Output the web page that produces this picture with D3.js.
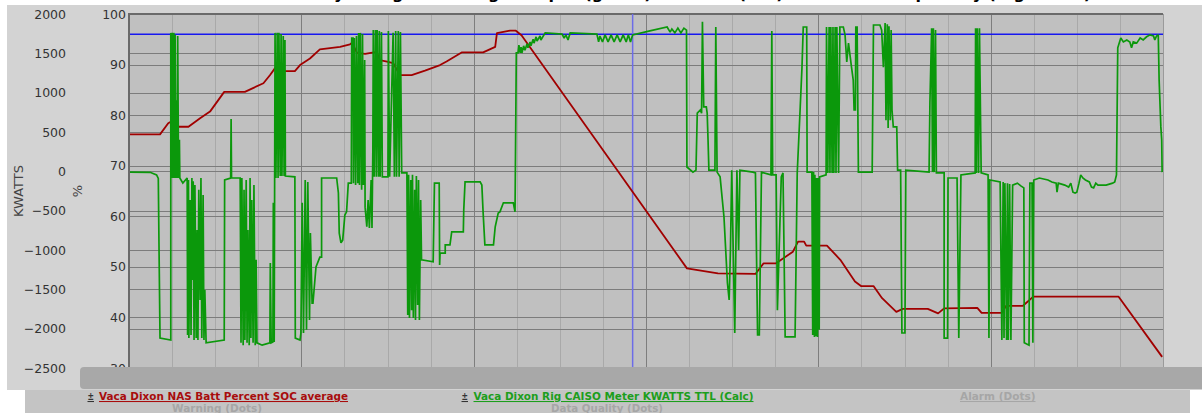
<!DOCTYPE html>
<html>
<head>
<meta charset="utf-8">
<script src="https://cdn.jsdelivr.net/npm/d3@7"></script>
<style>
  html, body { margin: 0; padding: 0; background: #ffffff; }
  svg { display: block; font-family: "DejaVu Sans", Verdana, sans-serif; }
</style>
</head>
<body>
<svg id="grafica" width="1202" height="413"></svg>
<script>
// =======================================================
// Datos
// =======================================================
const TITULO = "Vaca Dixon NAS Battery Charge/Discharge Output (green) and SOC (red) - 24 hour Sample Day (Rig Meter)";

const TICKS_KW = [-2500, -2000, -1500, -1000, -500, 0, 500, 1000, 1500, 2000];
const TICKS_PCT = [30, 40, 50, 60, 70, 80, 90, 100];

const LINEA_PCT = 96;      // línea azul horizontal
const HORA_CURSOR = 11.69; // línea azul vertical

// SOC promedio (%) : [hora, %]
const SOC_PCT = [
  [0, 76.2], [0.72, 76.2], [0.91, 78.4], [0.99, 78.8], [1.11, 77.7], [1.38, 77.7], [1.65, 79.4],
  [1.88, 80.7], [2.21, 84.6], [2.69, 84.6], [2.89, 85.4], [3.12, 86.3], [3.27, 87.9], [3.39, 89.3],
  [3.50, 88.7], [3.85, 88.7], [3.97, 89.9], [4.20, 91.2], [4.43, 93.0], [4.90, 93.5], [5.13, 94.0],
  [5.18, 94.3], [5.29, 92.3], [5.48, 92.1], [5.75, 92.5], [5.82, 90.9], [5.99, 90.6], [6.13, 90.3],
  [6.29, 87.9], [6.56, 87.9], [6.87, 88.8], [7.22, 89.9], [7.37, 90.6], [7.72, 92.4], [8.22, 92.4],
  [8.50, 93.5], [8.54, 96.2], [8.84, 96.7], [8.98, 96.7], [9.11, 95.8], [12.95, 49.7], [13.67, 48.7],
  [14.54, 48.6], [14.73, 50.7], [15.02, 50.7], [15.41, 53.0], [15.53, 55.0], [15.67, 55.0], [15.72, 54.2],
  [16.20, 54.2], [16.51, 51.4], [16.85, 47.1], [16.99, 46.2], [17.28, 46.2], [17.48, 43.8], [17.81, 41.1],
  [17.96, 41.7], [18.54, 41.7], [18.78, 40.8], [18.92, 41.8], [19.69, 41.9], [19.79, 40.9], [20.26, 40.9],
  [20.36, 42.3], [20.75, 42.3], [20.99, 44.1], [22.97, 44.1], [23.98, 32.2]
];

// Medidor CAISO (kW) : [hora, kW] en cuatro tramos
const KW_MADRUGADA = [
  [0.00, -10], [0.49, -12], [0.64, -45], [0.68, -90], [0.70, -1125], [0.72, -2120], [0.97, -2145],
  [0.97, 1760], [0.99, -85], [1.01, 1760], [1.03, -85], [1.04, 1760], [1.06, -85], [1.07, 1735], [1.09, -85],
  [1.11, 905], [1.12, -85], [1.13, 1720], [1.15, -85], [1.17, 400], [1.18, -85], [1.25, -150], [1.35, -85],
  [1.36, -2080], [1.38, -110], [1.39, -2120], [1.42, -365], [1.44, -2080], [1.46, -85], [1.47, -1380],
  [1.49, -125], [1.51, -2145], [1.53, -175], [1.56, -2120], [1.58, -745], [1.60, -2145], [1.62, -235],
  [1.65, -1635], [1.67, -85], [1.69, -2120], [1.72, -300], [1.74, -2145], [1.76, -1510], [1.79, -2180],
  [2.21, -2145], [2.22, -110], [2.36, -85], [2.37, 665], [2.38, -85], [2.58, -85],
  [2.60, -2180], [2.62, -85], [2.65, -2210], [2.67, -235], [2.69, -2145], [2.72, -110], [2.74, -2180],
  [2.76, -745], [2.79, -2210], [2.81, -85], [2.83, -2120], [2.85, -365], [2.88, -2180], [2.90, -175],
  [2.93, -2210], [2.95, -1125], [2.97, -2180], [3.09, -2210], [3.27, -2180], [3.28, -1165], [3.30, -2180],
  [3.34, -2170], [3.35, -400], [3.37, -2170],
  [3.39, 1760], [3.41, -85], [3.44, 1760], [3.46, -85], [3.48, 1760], [3.51, -60], [3.53, 1745], [3.55, -60],
  [3.58, 1720], [3.60, -60], [3.62, 1670], [3.63, -60], [3.85, -70],
  [3.86, -2120], [3.97, -2145], [3.99, -2055], [4.02, -400], [4.05, -2055], [4.09, -110], [4.12, -2015],
  [4.15, -135], [4.19, -1890], [4.21, -785], [4.25, -1675], [4.27, -1675], [4.34, -1215], [4.43, -1090],
  [4.47, -1090], [4.47, -85], [4.82, -85], [4.86, -275], [4.88, -785], [4.92, -910], [4.96, -875],
  [5.01, -555], [5.05, -515], [5.09, -150], [5.16, -150],
  [5.17, 1695], [5.20, 1695], [5.21, -150], [5.23, 1695], [5.26, -175], [5.28, 1720], [5.31, -150],
  [5.33, 1760], [5.35, -175], [5.37, 1760], [5.40, -235], [5.42, 1745], [5.44, -175], [5.47, 1415],
  [5.48, -455], [5.52, -705], [5.55, -365], [5.58, -720], [5.62, -110], [5.64, -720], [5.66, 270],
  [5.67, 1795], [5.69, -70], [5.72, 1795], [5.74, -70], [5.76, 1795], [5.79, -70], [5.81, 1785],
  [5.83, -70], [5.86, 1770], [5.88, -70]
];

const KW_MANANA = [
  [6.01, -70], [6.02, 1785], [6.05, -70], [6.13, 1760], [6.16, -70], [6.19, 1785], [6.21, -70],
  [6.25, 1785], [6.27, -70], [6.30, 1770], [6.33, -20], [6.45, -20],
  [6.47, -1825], [6.49, -45], [6.51, -1865], [6.54, -110], [6.56, -1765], [6.58, -45], [6.60, -1865],
  [6.63, -235], [6.65, -1890], [6.67, -60], [6.70, -1700], [6.72, -110], [6.74, -1890], [6.77, -365],
  [6.79, -1125], [7.06, -1150], [7.09, -150], [7.20, -150], [7.21, -1190], [7.22, -1040], [7.34, -1040],
  [7.34, -935], [7.45, -935], [7.49, -770], [7.76, -770], [7.77, -490], [7.80, -135], [8.15, -135],
  [8.19, -175], [8.22, -530], [8.26, -935], [8.46, -935], [8.50, -705], [8.57, -530], [8.61, -515],
  [8.69, -400], [8.92, -400], [8.96, -515],
  [8.99, 1505], [9.03, 1505], [9.05, 1605], [9.08, 1505], [9.10, 1580], [9.12, 1505], [9.16, 1595],
  [9.19, 1540], [9.24, 1620], [9.26, 1570], [9.31, 1645], [9.33, 1595], [9.38, 1680], [9.40, 1630],
  [9.45, 1710], [9.47, 1655], [9.54, 1720], [9.56, 1670], [9.66, 1760], [10.05, 1745], [10.10, 1695],
  [10.14, 1735], [10.19, 1670], [10.24, 1760], [10.86, 1745], [10.90, 1645], [10.93, 1720], [10.99, 1645],
  [11.05, 1735], [11.12, 1645], [11.19, 1735], [11.26, 1645], [11.33, 1735], [11.40, 1645], [11.47, 1735],
  [11.54, 1645], [11.59, 1735], [11.64, 1645], [11.69, 1735]
];

const KW_TARDE = [
  [12.09, 1785], [12.49, 1835], [12.56, 1770], [12.60, 1810], [12.67, 1760], [12.74, 1820], [12.81, 1760],
  [12.88, 1820], [12.94, 1795], [12.95, 55], [13.09, -10], [13.16, 15], [13.19, 740], [13.26, 780],
  [13.29, 740], [13.31, 1900], [13.34, 820], [13.40, 820], [13.42, 740], [13.44, 400], [13.46, 15],
  [13.60, 15], [13.62, 1835], [13.65, -10], [13.72, -70], [13.81, -580], [13.89, -1420], [13.93, -1635],
  [13.96, -1000], [13.99, 15], [14.06, -2055], [14.11, 15], [14.15, -1000], [14.18, 15], [14.48, -10],
  [14.54, -20], [14.59, -2080], [14.63, -2080], [14.68, -10], [14.90, -45], [14.92, 1785], [14.94, -45],
  [15.02, -45], [15.05, -1765], [15.09, -1000], [15.14, -70], [15.18, -20], [15.23, -2105], [15.46, -2105],
  [15.51, -20], [15.58, 820], [15.62, 1315], [15.65, 1835], [15.73, 1835], [15.74, -10], [15.85, -10],
  [15.87, -2080], [15.89, -10], [15.91, -2105], [15.92, -45], [15.94, -2095], [15.96, -85], [15.98, -2105],
  [16.00, -85], [16.02, -2015], [16.03, -70], [16.18, -45],
  [16.19, 1835], [16.22, -20], [16.25, 1835], [16.27, -20], [16.29, 1835], [16.32, -20], [16.34, 1835],
  [16.36, -20], [16.39, 1835], [16.41, -20], [16.43, 1835], [16.47, -20], [16.50, 1835], [16.58, 1835],
  [16.62, 1735], [16.66, 1390], [16.70, 1630], [16.77, 1325], [16.81, 1160], [16.83, 780], [16.86, 780],
  [16.87, 1835], [16.90, 1835], [16.93, -10], [17.25, -10], [17.28, 1860], [17.43, 1860], [17.47, 1795],
  [17.51, 1325], [17.55, 1885], [17.57, 650], [17.60, 1870], [17.62, 550], [17.64, 1845], [17.67, 650],
  [17.69, 1795], [17.71, 780], [17.74, 565], [17.82, 565], [17.84, 15], [17.91, 15], [17.94, -2055]
];

const KW_NOCHE = [
  [18.01, -2055], [18.03, 15], [18.57, -10], [18.59, 870], [18.63, 1820], [18.65, -10], [18.67, 1820],
  [18.69, -10], [18.72, 1795], [18.74, -20], [18.92, -20], [18.92, -2120], [19.00, -2120], [19.01, -85],
  [19.22, -85], [19.26, -2120], [19.31, -45], [19.64, -20], [19.65, 1820], [19.67, -20], [19.69, 1820],
  [19.72, -20], [19.74, 1820], [19.78, -20], [19.94, -45], [19.96, -2120], [19.98, -110], [20.22, -135],
  [20.26, -2145], [20.29, -135], [20.31, -2120], [20.33, -150], [20.37, -2145], [20.39, -150], [20.41, -2145],
  [20.44, -160], [20.47, -2145], [20.51, -175], [20.62, -150], [20.70, -185], [20.77, -210], [20.78, -2180],
  [20.89, -2210], [20.91, -150], [20.96, -150], [20.98, -2180], [21.00, -110], [21.13, -85], [21.33, -110],
  [21.42, -135], [21.52, -150], [21.54, -265], [21.57, -150], [21.72, -175], [21.81, -200], [21.86, -150],
  [21.91, -265], [21.96, -275], [22.00, -265], [22.05, -150], [22.09, -45], [22.14, -85], [22.20, -110],
  [22.29, -135], [22.34, -200], [22.39, -210], [22.44, -150], [22.49, -175], [22.68, -175], [22.83, -150],
  [22.88, -135], [22.92, -45], [22.95, 1570], [23.02, 1695], [23.08, 1645], [23.16, 1670], [23.23, 1645],
  [23.27, 1570], [23.31, 1645], [23.39, 1630], [23.47, 1695], [23.54, 1670], [23.62, 1710], [23.70, 1735],
  [23.78, 1720], [23.81, 1670], [23.85, 1720], [23.89, 1735], [23.91, 1160], [23.95, 565], [23.97, 400],
  [23.98, -10]
];

const KW_TOTAL = KW_MADRUGADA.concat(KW_MANANA, KW_TARDE, KW_NOCHE);

// Leyenda
const LEYENDA_SOC = "Vaca Dixon NAS Batt Percent SOC average";
const LEYENDA_KW = "Vaca Dixon Rig CAISO Meter KWATTS TTL (Calc)";

// =======================================================
// Estilos
// =======================================================
const COLORES = {
  panel: "#d3d3d3",
  fondo: "#c0c0c0",
  gridH: "#7c7c7c",
  gridV: "#a9a9a9",
  gridV4: "#7e7e7e",
  eje: "#6a6a6a",
  soc: "#a10000",
  kw: "#0b980b",
  azul: "#1818f0",
  cursor: "#6c6ce8",
  scroll: "#a8a8a8",
  leyenda: "#c4c4c4",
  apagado: "#a6a6a6",
};

const AREA = { left: 129, right: 1163, top: 14, bottom: 368 };

// =======================================================
// Escalas
// =======================================================
const x = d3.scaleLinear().domain([0, 24]).range([AREA.left, AREA.right]);
const yKw = d3.scaleLinear().domain([-2500, 2000]).range([AREA.bottom, AREA.top]);
const yPct = d3.scaleLinear().domain([30, 100]).range([AREA.bottom, AREA.top]);

const svg = d3.select("#grafica");

// Fondo y título (recortado arriba, solo se ven los descendentes)
svg.append("rect").attr("width", 1202).attr("height", 413).attr("fill", "#ffffff");
svg.append("text")
  .attr("x", 610).attr("y", -1)
  .attr("text-anchor", "middle")
  .style("font-size", "16px").style("font-weight", "bold")
  .attr("fill", "#000")
  .text(TITULO);

svg.append("rect")
  .attr("x", 7).attr("y", 5).attr("width", 1195).attr("height", 385)
  .attr("fill", COLORES.panel);

svg.append("rect")
  .attr("x", AREA.left).attr("y", AREA.top)
  .attr("width", AREA.right - AREA.left).attr("height", AREA.bottom - AREA.top)
  .attr("fill", COLORES.fondo);

// =======================================================
// Rejilla
// =======================================================
const grid = svg.append("g").attr("class", "rejilla");

grid.selectAll(".v")
  .data(x.ticks(24).filter(h => h > 0 && h < 24))
  .enter().append("line")
  .attr("x1", d => Math.round(x(d)) + 0.5).attr("x2", d => Math.round(x(d)) + 0.5)
  .attr("y1", AREA.top).attr("y2", AREA.bottom)
  .attr("stroke", d => (d % 4 === 0 ? COLORES.gridV4 : COLORES.gridV))
  .attr("stroke-width", 1);

grid.selectAll(".hk")
  .data(TICKS_KW)
  .enter().append("line")
  .attr("x1", AREA.left).attr("x2", AREA.right)
  .attr("y1", d => Math.round(yKw(d)) + 0.5).attr("y2", d => Math.round(yKw(d)) + 0.5)
  .attr("stroke", COLORES.gridH);

grid.selectAll(".hp")
  .data(TICKS_PCT)
  .enter().append("line")
  .attr("x1", AREA.left).attr("x2", AREA.right)
  .attr("y1", d => Math.round(yPct(d)) + 0.5).attr("y2", d => Math.round(yPct(d)) + 0.5)
  .attr("stroke", COLORES.gridH);

// Borde superior, eje izquierdo y borde derecho
svg.append("line")
  .attr("x1", AREA.left).attr("x2", AREA.right).attr("y1", AREA.top).attr("y2", AREA.top)
  .attr("stroke", COLORES.eje).attr("stroke-width", 2);
svg.append("line")
  .attr("x1", AREA.left).attr("x2", AREA.left).attr("y1", AREA.top - 1).attr("y2", AREA.bottom)
  .attr("stroke", COLORES.eje).attr("stroke-width", 2);
svg.append("line")
  .attr("x1", AREA.right + 0.5).attr("x2", AREA.right + 0.5).attr("y1", AREA.top).attr("y2", AREA.bottom)
  .attr("stroke", "#9a9a9a").attr("stroke-width", 1);

// =======================================================
// Ejes (solo etiquetas)
// =======================================================
function pintarEtiquetas(escala, ticks, xPos) {
  const g = svg.append("g")
    .attr("transform", `translate(${xPos},0)`)
    .call(d3.axisLeft(escala).tickValues(ticks).tickFormat(d3.format("d")).tickSize(0).tickPadding(0));
  g.select(".domain").remove();
  g.selectAll("text")
    .style("font-family", "'DejaVu Sans', Verdana, sans-serif")
    .style("font-size", "12.5px")
    .attr("fill", "#333");
  return g;
}
pintarEtiquetas(yKw, TICKS_KW, 66);
pintarEtiquetas(yPct, TICKS_PCT, 126);

svg.append("text")
  .attr("transform", "translate(22.5,191) rotate(-90)")
  .attr("text-anchor", "middle")
  .style("font-size", "13px").attr("fill", "#444")
  .text("KWATTS");
svg.append("text")
  .attr("transform", "translate(81.5,191) rotate(-90)")
  .attr("text-anchor", "middle")
  .style("font-size", "13px").attr("fill", "#444")
  .text("%");

// =======================================================
// Series
// =======================================================
svg.append("clipPath").attr("id", "recorte")
  .append("rect")
  .attr("x", AREA.left + 1).attr("y", AREA.top)
  .attr("width", AREA.right - AREA.left).attr("height", AREA.bottom - AREA.top);

const capa = svg.append("g").attr("clip-path", "url(#recorte)");

// Líneas de referencia azules
capa.append("line")
  .attr("x1", AREA.left).attr("x2", AREA.right)
  .attr("y1", yPct(LINEA_PCT)).attr("y2", yPct(LINEA_PCT))
  .attr("stroke", COLORES.azul).attr("stroke-width", 1.3);
capa.append("line")
  .attr("x1", x(HORA_CURSOR)).attr("x2", x(HORA_CURSOR))
  .attr("y1", AREA.top).attr("y2", AREA.bottom)
  .attr("stroke", COLORES.cursor).attr("stroke-width", 1.5);

const lineaSoc = d3.line().x(d => x(d[0])).y(d => yPct(d[1]));
const lineaKw = d3.line().x(d => x(d[0])).y(d => yKw(d[1]));

capa.append("path")
  .datum(SOC_PCT)
  .attr("d", lineaSoc)
  .attr("fill", "none")
  .attr("stroke", COLORES.soc)
  .attr("stroke-width", 1.8)
  .attr("stroke-linejoin", "round");

capa.append("path")
  .datum(KW_TOTAL)
  .attr("d", lineaKw)
  .attr("fill", "none")
  .attr("stroke", COLORES.kw)
  .attr("stroke-width", 1.7)
  .attr("stroke-linejoin", "miter")
  .attr("stroke-miterlimit", 2);

// =======================================================
// Barra de desplazamiento y leyenda
// =======================================================
svg.append("rect")
  .attr("x", 80).attr("y", 367).attr("width", 1140).attr("height", 22).attr("rx", 4)
  .attr("fill", COLORES.scroll);

svg.append("rect")
  .attr("x", 25).attr("y", 390).attr("width", 1165).attr("height", 23)
  .attr("fill", COLORES.leyenda);

const leyenda = svg.append("g").attr("class", "leyenda")
  .style("font-size", "10.5px").style("font-weight", "bold");

function textoLeyenda(txt, xPos, yPos, ancho, color, subrayado) {
  return leyenda.append("text")
    .attr("x", xPos).attr("y", yPos)
    .attr("textLength", ancho).attr("lengthAdjust", "spacingAndGlyphs")
    .attr("fill", color)
    .style("text-decoration", subrayado ? "underline" : "none")
    .text(txt);
}

textoLeyenda("±", 87.5, 400, 6.5, "#333", true);
textoLeyenda(LEYENDA_SOC, 99, 400, 249, "#a80c0c", true);
textoLeyenda("Warning (Dots)", 172, 411.5, 90, COLORES.apagado, false);
textoLeyenda("±", 461.5, 400, 6.5, "#333", true);
textoLeyenda(LEYENDA_KW, 473.5, 400, 280, "#1c9e1c", true);
textoLeyenda("Data Quality (Dots)", 551, 411.5, 112, COLORES.apagado, false);
textoLeyenda("Alarm (Dots)", 960, 400, 75.5, COLORES.apagado, true);
</script>
</body>
</html>
